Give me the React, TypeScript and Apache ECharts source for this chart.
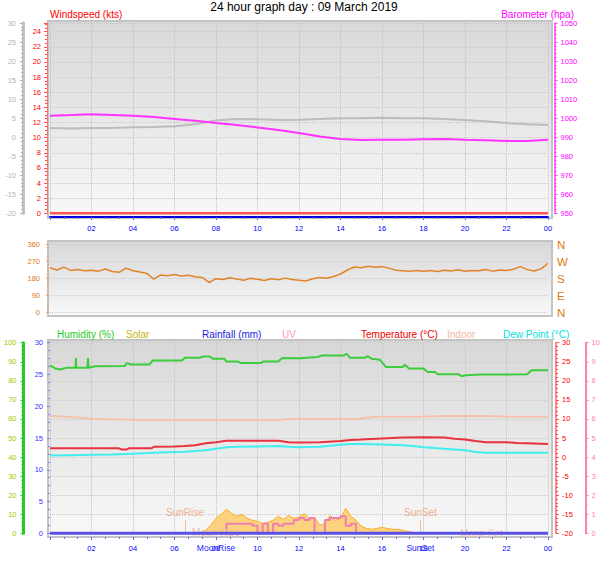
import React, { useEffect, useRef } from 'react';
import * as echarts from 'echarts';

const FONT = '"Liberation Sans", Arial, sans-serif';

// ---------- data ----------
const hourlyHours = [0,1,2,3,4,5,6,7,8,9,10,11,12,13,14,15,16,17,18,19,20,21,22,23,24];
const windSpeedKts = [0,0,0,0,0,0,0,0,0,0,0,0,0,0,0,0,0,0,0,0,0,0,0,0,0];
const barometerHpa = [1001.3,1001.6,1002.0,1001.7,1001.3,1000.6,999.6,998.6,997.4,996.4,995.1,993.8,992.2,990.4,989.0,988.5,988.6,988.6,988.9,989.0,988.6,988.4,988.0,988.0,988.7];
const topTempC = [2.4,2.3,2.4,2.4,2.6,2.7,2.9,3.4,4.4,4.8,4.7,4.5,4.6,4.8,5.0,5.0,5.1,5.0,5.0,4.8,4.5,4.2,3.7,3.4,3.2];
const rainfallMm = [0,0,0,0,0,0,0,0,0,0,0,0,0,0,0,0,0,0,0,0,0,0,0,0,0];

// wind direction every 20 minutes (degrees)
const dirStepHours = 1 / 3;
const windDirDeg = [
  238,226,241,224,229,222,225,220,231,218,214,236,222,215,208,178,200,196,202,194,
  198,190,187,160,180,176,185,178,172,182,177,170,180,174,183,176,172,168,180,186,
  182,192,205,226,242,238,246,241,244,236,225,222,219,224,220,223,218,225,221,227,
  219,224,222,229,220,226,224,230,244,228,221,232,262,
];

// humidity [hour, %]
const humidityPct: [number, number][] = [
  [0,88.1],[0.25,86.5],[0.5,85.9],[0.8,86.9],[1.23,86.9],[1.25,91.9],[1.27,86.9],[1.8,86.9],[1.83,91.9],[1.86,86.9],
  [2.17,87.6],[3.6,87.8],[3.7,89.3],[3.9,88.6],[4.8,88.6],[4.95,90.7],[6.35,90.7],[6.5,92.1],[7.2,92.1],[7.4,92.8],
  [7.7,92.8],[7.85,91.6],[8.4,91.6],[8.5,90.2],[9.05,90.2],[9.2,89.3],[10.15,89.3],[10.3,90.2],[11,90.2],[11.2,92.0],
  [12.05,91.9],[12.9,92.5],[13.1,93.3],[14.15,93.3],[14.3,94.2],[14.45,92.1],[15.2,92.1],[15.3,93],[15.5,91.6],[15.9,91.0],
  [16.2,87.2],[17.0,87.2],[17.1,88.5],[17.3,86.4],[18.0,86.4],[18.2,84.6],[18.55,84.6],[18.7,83.4],[19.7,83.4],[19.85,82.4],
  [20.05,82.9],[20.7,83.3],[23.0,83.4],[23.2,85.5],[24,85.5],
];

const temperatureC: [number, number][] = [
  [0,2.3],[1,2.3],[2,2.3],[3.3,2.3],[3.45,2.0],[3.7,2.0],[3.8,2.3],[4.9,2.3],[5,2.7],[6,2.8],[6.5,2.9],[7,3.1],
  [7.5,3.6],[8,3.9],[8.5,4.3],[10,4.3],[11,4.3],[11.5,3.9],[12,3.8],[13,3.9],[14,4.2],[14.5,4.5],[15,4.6],[16,4.9],
  [17,5.1],[18,5.2],[19,5.1],[19.5,4.8],[20,4.6],[20.5,4.2],[21,3.9],[22,3.9],[22.5,3.7],[23,3.6],[24,3.4],
];
const dewPointC: [number, number][] = [
  [0,0.4],[1,0.5],[2,0.6],[3,0.7],[4,0.9],[5,1.1],[6,1.3],[6.5,1.4],[7,1.6],[7.5,1.8],[8,2.2],[8.5,2.6],[9,2.7],
  [10,2.8],[11,2.9],[11.5,2.7],[12,2.6],[13,2.7],[14,3.2],[14.5,3.4],[15,3.4],[16,3.3],[17,3.1],[17.5,2.9],[18,2.6],
  [19,2.2],[20,1.8],[20.5,1.3],[21,1.1],[22,1.1],[23,1.1],[24,1.1],
];
const indoorC: [number, number][] = [
  [0,10.8],[1,10.5],[1.5,10.3],[2.2,10.0],[4,9.8],[4.5,9.7],[11,9.7],[11.5,10.0],[14.8,10.0],[15.2,10.3],[15.9,10.6],
  [18,10.6],[19,10.8],[21,10.8],[22,10.6],[24,10.6],
];

// solar & UV every 15 minutes from 07:00
const sunStartHour = 7;
const sunStepHours = 0.25;
const solarWm2 = [0,3,16,42,79,100,126,105,89,100,79,68,63,52,58,68,89,73,94,79,84,105,73,84,42,52,94,68,79,131,89,68,37,26,21,26,31,26,21,21,16,10,5,0,0];
const uvIndex = [0,0,0,0,0,0,0,0.5,0.5,0.5,0.5,0.5,0.4,0,0.5,0,0.5,0.4,0.5,0.5,0.7,0.8,0.7,0.8,0,0,0.7,0.8,0.8,0.9,0.4,0.5,0,0,0,0,0,0,0,0,0,0,0,0,0];

const sunRiseHour = 6.5;
const sunSetHour = 17.85;
const moonRiseHour = 8.0;
const moonSetHour = 20.8;

const xTickHours = 2;
const dirNames: Record<number, string> = { 0: 'N', 90: 'E', 180: 'S', 270: 'W', 360: 'N' };

// ---------- helpers ----------
const pad = (n: number) => (n < 10 ? '0' + n : String(n));
const zip = (xs: number[], ys: number[]) => ys.map((v, i) => [xs[i], v]);
const stepZip = (start: number, step: number, ys: number[]) => ys.map((v, i) => [start + i * step, v]);

const mkX = (gridIndex: number, showLabels: boolean, showSplit: boolean, offset: number, lineColor?: string) => ({
  type: 'value', gridIndex, min: 0, max: 24, interval: xTickHours, offset,
  axisLine: { show: !!lineColor, onZero: false, lineStyle: { color: lineColor || '#000', width: 2 } },
  axisTick: { show: showLabels, length: 3, lineStyle: { color: '#6a6aff' } },
  minorTick: { show: showLabels, splitNumber: 3, length: 2, lineStyle: { color: '#6a6aff' } },
  axisLabel: {
    show: showLabels, color: '#0000ff', fontSize: 7.5, fontFamily: FONT, margin: 7,
    formatter: (v: number) => (v === 0 ? '' : pad(Math.round(v) % 24)),
  },
  splitLine: { show: showSplit, lineStyle: { color: '#c0c0c0', type: 'dotted', width: 1 } },
  minorSplitLine: { show: false },
});

const mkY = (o: any) => ({
  type: 'value', gridIndex: o.grid, position: o.pos, offset: o.offset, min: o.min, max: o.max, interval: o.interval,
  show: o.show !== false,
  axisLine: { show: !!o.lineColor, onZero: false, lineStyle: { color: o.lineColor || '#000', width: o.lineWidth || 1 } },
  axisTick: { show: !!o.tickColor, length: 3, lineStyle: { color: o.tickColor || '#000' } },
  minorTick: { show: !!o.tickColor && !!o.minor, splitNumber: o.minor || 5, length: 2, lineStyle: { color: o.tickColor || '#000' } },
  axisLabel: {
    color: o.color, fontSize: o.fontSize || 7.5, fontFamily: FONT, margin: o.margin ?? 6,
    formatter: o.formatter || ((v: number) => String(v)),
  },
  splitLine: { show: !!o.split, lineStyle: { color: '#cacaca', type: 'dotted', width: 1 } },
});

const bg = (top: string, bottom: string) =>
  new echarts.graphic.LinearGradient(0, 0, 0, 1, [
    { offset: 0, color: top },
    { offset: 1, color: bottom },
  ]);

const panel = (y: number, h: number) => ({
  type: 'rect', z: -5, silent: true,
  shape: { x: 48, y, width: 504, height: h },
  style: { fill: bg('#d8d8d8', '#f8f8f8'), stroke: '#c4c4c4', lineWidth: 2 },
});

const txt = (text: string, x: number, y: number, fill: string, align: string, size = 10) => ({
  type: 'text', z: 50, x, y, silent: true,
  style: { text, fill, font: `${size}px ${FONT}`, textAlign: align, align, textVerticalAlign: 'middle', verticalAlign: 'middle' },
});

export default function App() {
  const ref = useRef<HTMLDivElement>(null);
  useEffect(() => {
    const chart = echarts.init(ref.current!, null, { renderer: 'svg' });
    const option: any = {
      animation: false,
      backgroundColor: '#ffffff',
      grid: [
        { left: 50, width: 498, top: 23, height: 190.3 },
        { left: 50, width: 498, top: 244.7, height: 68 },
        { left: 50, width: 498, top: 342.7, height: 190.6 },
      ],
      xAxis: [
        mkX(0, true, true, 3.7, '#0000dd'),
        mkX(1, false, false, 0),
        mkX(2, true, true, 3.7),
      ],
      yAxis: [
        mkY({ grid: 0, pos: 'left', offset: 27, min: -20, max: 30, interval: 5, color: '#b4b4b4', lineColor: '#c0c0c0', lineWidth: 3, tickColor: '#b0b0b0', minor: 5, margin: 7 }),
        mkY({ grid: 0, pos: 'left', offset: 3, min: 0, max: 25.15, interval: 2, color: '#ff0000', lineColor: '#ff7070', tickColor: '#ff5050', minor: 4, margin: 6, split: true,
          formatter: (v: number) => (Math.abs(v % 2) < 1e-6 ? String(v) : '') }),
        mkY({ grid: 0, pos: 'right', offset: 6.5, min: 950, max: 1050, interval: 10, color: '#ff00ff', lineColor: '#ff40ff', lineWidth: 1.5, tickColor: '#ff40ff', minor: 5, margin: 6 }),
        mkY({ grid: 1, pos: 'left', offset: 1, min: 0, max: 360, interval: 90, color: '#e07810', tickColor: '#f0a060', minor: 6, margin: 9, split: true }),
        mkY({ grid: 1, pos: 'right', offset: 0, min: 0, max: 360, interval: 90, color: '#e07810', fontSize: 11.5, margin: 9,
          formatter: (v: number) => dirNames[v] ?? '' }),
        mkY({ grid: 2, pos: 'left', offset: 26.5, min: 0, max: 100, interval: 10, color: '#99cc00', lineColor: '#22cc22', lineWidth: 3, tickColor: '#22cc22', minor: 5, margin: 7, split: true }),
        mkY({ grid: 2, pos: 'left', offset: 0, min: 0, max: 30, interval: 5, color: '#3333ff', tickColor: '#8080ff', minor: 4, margin: 7 }),
        mkY({ grid: 2, pos: 'right', offset: 8, min: -20, max: 30, interval: 5, color: '#ff0000', lineColor: '#ff6060', lineWidth: 1.5, tickColor: '#ff5050', minor: 5, margin: 6 }),
        mkY({ grid: 2, pos: 'right', offset: 37.5, min: 0, max: 10, interval: 1, color: '#ff80b0', lineColor: '#ff80b0', lineWidth: 2, tickColor: '#ff80b0', minor: 2, margin: 6 }),
        mkY({ grid: 2, pos: 'right', offset: 0, min: 0, max: 1000, interval: 100, show: false, color: '#000' }),
      ],
      graphic: [
        panel(21, 197),
        panel(241, 75),
        panel(340, 197),
        txt('24 hour graph day : 09 March 2019', 304, 7, '#000000', 'center', 12),
        txt('Windspeed (kts)', 50, 14.5, '#ff0000', 'left'),
        txt('Barometer (hpa)', 574, 14.5, '#ff00ff', 'right'),
        txt('Humidity (%)', 57, 334, '#22cc22', 'left'),
        txt('Solar', 126, 334, '#c8b400', 'left'),
        txt('Rainfall (mm)', 202, 334, '#1a1ae6', 'left'),
        txt('UV', 282, 334, '#ff99bb', 'left'),
        txt('Temperature (°C)', 361, 334, '#ee0000', 'left'),
        txt('Indoor', 447, 334, '#f0b8a0', 'left'),
        txt('Dew Point (°C)', 503, 334, '#00e0e0', 'left'),
      ],
      series: [
        // top panel
        { type: 'line', name: 'Temp', xAxisIndex: 0, yAxisIndex: 0, data: zip(hourlyHours, topTempC), symbol: 'none',
          lineStyle: { color: '#bcbcbc', width: 2 }, z: 3 },
        { type: 'line', name: 'Barometer', xAxisIndex: 0, yAxisIndex: 2, data: zip(hourlyHours, barometerHpa), symbol: 'none',
          lineStyle: { color: '#ff33ff', width: 2 }, z: 4 },
        { type: 'line', name: 'Windspeed', xAxisIndex: 0, yAxisIndex: 1, data: zip(hourlyHours, windSpeedKts), symbol: 'none', clip: false,
          lineStyle: { color: '#ff5555', width: 2.5 }, z: 5 },
        // middle panel
        { type: 'line', name: 'Direction', xAxisIndex: 1, yAxisIndex: 3, data: stepZip(0, dirStepHours, windDirDeg), symbol: 'none',
          lineStyle: { color: '#e08428', width: 1.5 }, z: 3 },
        // bottom panel
        { type: 'line', name: 'Solar', xAxisIndex: 2, yAxisIndex: 9, data: stepZip(sunStartHour, sunStepHours, solarWm2), symbol: 'none',
          lineStyle: { color: '#f4b030', width: 1 }, areaStyle: { color: '#fcd27e', opacity: 1 }, z: 2 },
        { type: 'line', name: 'UV', xAxisIndex: 2, yAxisIndex: 8, data: stepZip(sunStartHour, sunStepHours, uvIndex), symbol: 'none', step: 'start',
          lineStyle: { color: '#f080b0', width: 2 }, z: 3 },
        { type: 'line', name: 'Indoor', xAxisIndex: 2, yAxisIndex: 7, data: indoorC, symbol: 'none',
          lineStyle: { color: '#f5c2aa', width: 2 }, z: 3 },
        { type: 'line', name: 'Dew Point', xAxisIndex: 2, yAxisIndex: 7, data: dewPointC, symbol: 'none',
          lineStyle: { color: '#40eef0', width: 2 }, z: 4 },
        { type: 'line', name: 'Temperature', xAxisIndex: 2, yAxisIndex: 7, data: temperatureC, symbol: 'none',
          lineStyle: { color: '#e8323e', width: 2 }, z: 5 },
        { type: 'line', name: 'Humidity', xAxisIndex: 2, yAxisIndex: 5, data: humidityPct, symbol: 'none',
          lineStyle: { color: '#3ccc3c', width: 2 }, z: 5 },
        { type: 'line', name: 'Rainfall', xAxisIndex: 2, yAxisIndex: 6, data: zip(hourlyHours, rainfallMm), symbol: 'none', clip: false,
          lineStyle: { color: '#5a4fe6', width: 3 }, z: 6,
          markLine: {
            silent: true, symbol: 'none', animation: false,
            lineStyle: { color: '#f4b898', width: 1, type: 'solid' },
            label: { show: true, position: 'end', distance: 3, color: '#f0b090', fontSize: 10, fontFamily: FONT,
              formatter: (p: any) => p.name },
            data: [
              [{ name: 'SunRise', coord: [sunRiseHour, 0] }, { coord: [sunRiseHour, 2] }],
              [{ name: 'SunSet', coord: [sunSetHour, 0] }, { coord: [sunSetHour, 2] }],
            ],
          },
          markPoint: {
            silent: true, symbol: 'circle', symbolSize: 1, itemStyle: { color: 'rgba(0,0,0,0)' },
            label: { show: true, position: 'inside', fontFamily: FONT },
            data: [
              { coord: [moonRiseHour, 0], label: { formatter: 'Moon Rise', color: '#f0c0a8', fontSize: 10, offset: [0, -1] } },
              { coord: [moonSetHour, 0], label: { formatter: 'Moon Set', color: '#f0c0a8', fontSize: 10, offset: [0, 0] } },
              { coord: [moonRiseHour, 0], label: { formatter: 'MoonRise', color: '#1a1aff', fontSize: 8.5, offset: [0, 15] } },
              { coord: [sunSetHour, 0], label: { formatter: 'SunSet', color: '#1a1aff', fontSize: 8.5, offset: [0, 15] } },
            ],
          },
        },
      ],
    };
    chart.setOption(option);
    return () => chart.dispose();
  }, []);
  return <div ref={ref} style={{ position: 'fixed', left: 0, top: 0, width: 608, height: 561, background: '#fff' }} />;
}
